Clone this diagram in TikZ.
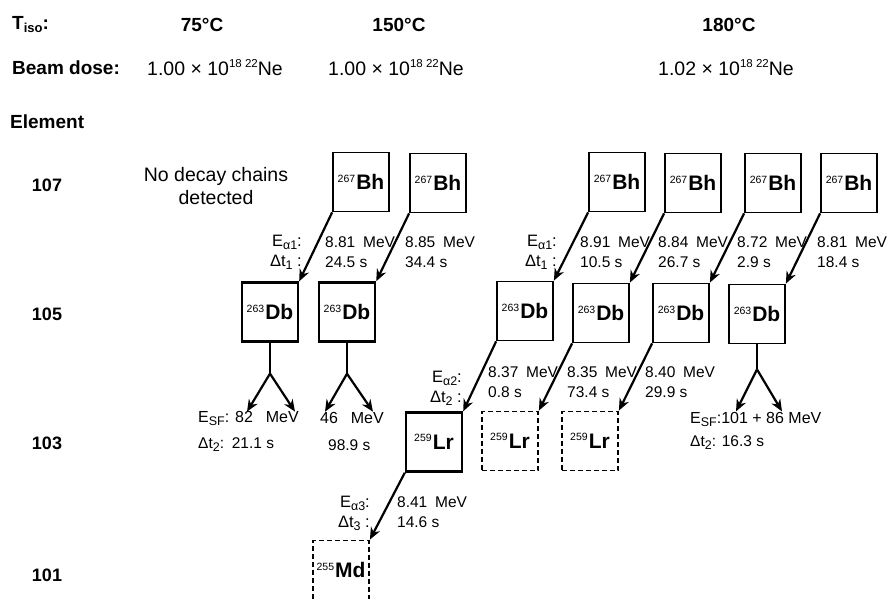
\documentclass[tikz,border=0pt]{standalone}
\usepackage{fontspec}
\setmainfont{Liberation Sans}
\usetikzlibrary{arrows.meta,calc,positioning}
\newcommand{\nuc}[2]{{\fontsize{10.5}{10.5}\selectfont\raisebox{7.5pt}{#1}}\kern1pt{\fontsize{21}{21}\selectfont\bfseries #2}}
\newcommand{\supr}[1]{{\fontsize{11.5}{11.5}\selectfont\raisebox{8pt}{#1}}}
\newcommand{\subr}[1]{{\fontsize{12.5}{12.5}\selectfont\raisebox{-3pt}{#1}}}
\newcommand{\mev}{\hspace{0.5em}MeV}
\begin{document}
\begin{tikzpicture}[
    x=1pt,y=-1pt,
    font=\fontsize{15.5}{20}\selectfont,
    head/.style={font=\fontsize{19}{22}\selectfont\bfseries,inner sep=0pt},
    row/.style={font=\fontsize{18}{22}\selectfont\bfseries,inner sep=0pt},
    dose/.style={font=\fontsize{19.5}{22}\selectfont,anchor=west,inner sep=0pt},
    nucbox/.style={draw,line width=1.8pt,minimum width=56pt,minimum height=59pt,inner sep=0pt},
    lost/.style={nucbox,dash pattern=on 5pt off 3pt},
    val/.style={align=left,anchor=west,inner sep=0pt},
    tag/.style={align=right,anchor=east,inner sep=0pt,font=\fontsize{16.5}{20}\selectfont},
    decay/.style={-{Stealth[length=12pt,width=10pt]},line width=2.2pt},
    split/.style={line width=1.8pt}
  ]
    \useasboundingbox (0,0) rectangle (889,599);

    % header
    \node[head,anchor=west] (tiso) at (12,25) {T{\fontsize{13}{13}\selectfont\raisebox{-3pt}{iso}}:};
    \node[head] (t75) at (202,25) {75°C};
    \node[head] (t150) at (399,25) {150°C};
    \node[head] (t180) at (729,25) {180°C};
    \node[head,anchor=west] (beam) at (12,68) {Beam dose:};
    \node[dose] (dose75) at (147,68) {1.00 × 10\supr{18 22}Ne};
    \node[dose] (dose150) at (328,68) {1.00 × 10\supr{18 22}Ne};
    \node[dose] (dose180) at (658,68) {1.02 × 10\supr{18 22}Ne};
    \node[head,anchor=west] (elem) at (10,122) {Element};

    % element rows
    \node[row] (z107) at (47,185) {107};
    \node[row] (z105) at (47,314) {105};
    \node[row] (z103) at (47,443) {103};
    \node[row] (z101) at (47,575) {101};

    \node[align=center,font=\fontsize{19.5}{23}\selectfont] (none) at (216,186) {No decay chains\\detected};

    % Bh
    \node[nucbox] (bh1) at (361,182) {\nuc{267}{Bh}};
    \node[nucbox] (bh2) at (438,183) {\nuc{267}{Bh}};
    \node[nucbox] (bh3) at (617,182) {\nuc{267}{Bh}};
    \node[nucbox] (bh4) at (693,183) {\nuc{267}{Bh}};
    \node[nucbox] (bh5) at (773,183) {\nuc{267}{Bh}};
    \node[nucbox] (bh6) at (849,183) {\nuc{267}{Bh}};

    % Db
    \node[nucbox,line width=2.3pt] (db1) at (270,312) {\nuc{263}{Db}};
    \node[nucbox,line width=2.5pt] (db2) at (347,312) {\nuc{263}{Db}};
    \node[nucbox] (db3) at (525,311) {\nuc{263}{Db}};
    \node[nucbox] (db4) at (601,313) {\nuc{263}{Db}};
    \node[nucbox] (db5) at (681,313) {\nuc{263}{Db}};
    \node[nucbox] (db6) at (757,314) {\nuc{263}{Db}};

    % Lr, Md
    \node[nucbox,line width=2.4pt] (lr1) at (434,442) {\nuc{259}{Lr}};
    \node[lost] (lr2) at (510,441) {\nuc{259}{Lr}};
    \node[lost] (lr3) at (590,441) {\nuc{259}{Lr}};
    \node[lost] (md1) at (341,570) {\nuc{255}{Md}};

    % alpha decays
    \draw[decay] (bh1.south west) -- (db1.north east);
    \draw[decay] (bh2.south west) -- (db2.north east);
    \draw[decay] (bh3.south west) -- (db3.north east);
    \draw[decay] (bh4.south west) -- (db4.north east);
    \draw[decay] (bh5.south west) -- (db5.north east);
    \draw[decay] (bh6.south west) -- (db6.north east);
    \draw[decay] (db3.south west) -- (lr1.north east);
    \draw[decay] (db4.south west) -- (lr2.north east);
    \draw[decay] (db5.south west) -- (lr3.north east);
    \draw[decay] (lr1.south west) -- (md1.north east);

    % fission
    \coordinate (fork1) at ($(db1.south)+(0,31)$);
    \coordinate (fork2) at ($(db2.south)+(0,31)$);
    \coordinate (fork6) at ($(db6.south)+(0,25)$);
    \coordinate (ff1a) at ($(fork1)+(-23,38)$);
    \coordinate (ff1b) at ($(fork1)+(25,38)$);
    \coordinate (ff2a) at ($(fork2)+(-22,38)$);
    \coordinate (ff2b) at ($(fork2)+(26,38)$);
    \coordinate (ff6a) at ($(fork6)+(-21,42)$);
    \coordinate (ff6b) at ($(fork6)+(25,42)$);
    \draw[split] (db1.south) -- (fork1);
    \draw[split] (db2.south) -- (fork2);
    \draw[split] (db6.south) -- (fork6);
    \draw[decay] (fork1) -- (ff1a);
    \draw[decay] (fork1) -- (ff1b);
    \draw[decay] (fork2) -- (ff2a);
    \draw[decay] (fork2) -- (ff2b);
    \draw[decay] (fork6) -- (ff6a);
    \draw[decay] (fork6) -- (ff6b);

    % labels, first alpha
    \node[tag] (ea1) at (302,252) {E\subr{α1}:\\Δt\subr{1} :};
    \node[val] (v1) at (325,252) {8.81\mev\\24.5 s};
    \node[val] (v2) at (405,252) {8.85\mev\\34.4 s};
    \node[tag] (eb1) at (557,252) {E\subr{α1}:\\Δt\subr{1} :};
    \node[val] (v3) at (580,252) {8.91\mev\\10.5 s};
    \node[val] (v4) at (658,252) {8.84\mev\\26.7 s};
    \node[val] (v5) at (737,252) {8.72\mev\\2.9 s};
    \node[val] (v6) at (817,252) {8.81\mev\\18.4 s};

    % labels, second and third alpha
    \node[tag] (ea2) at (462,388) {E\subr{α2}:\\Δt\subr{2} :};
    \node[val] (w3) at (488,382) {8.37\mev\\0.8 s};
    \node[val] (w4) at (567,382) {8.35\mev\\73.4 s};
    \node[val] (w5) at (645,382) {8.40\mev\\29.9 s};
    \node[tag] (ea3) at (370,513) {E\subr{α3}:\\Δt\subr{3} :};
    \node[val] (u1) at (397,512) {8.41\mev\\14.6 s};

    % labels, fission
    \node[val,font=\fontsize{16}{20}\selectfont] (sf1) at (198,418) {E\subr{SF}: 82\hspace{0.8em}MeV};
    \node[val,font=\fontsize{16}{20}\selectfont] (sf2) at (320,418) {46\hspace{0.8em}MeV};
    \node[val] (dt1) at (198,445) {Δt\subr{2}:\enspace 21.1 s};
    \node[val] (dt2) at (328,445) {98.9 s};
    \node[val,font=\fontsize{16}{20}\selectfont] (sf6) at (690,419) {E\subr{SF}:101 + 86 MeV};
    \node[val] (dt6) at (690,443) {Δt\subr{2}: 16.3 s};
\end{tikzpicture}
\end{document}
